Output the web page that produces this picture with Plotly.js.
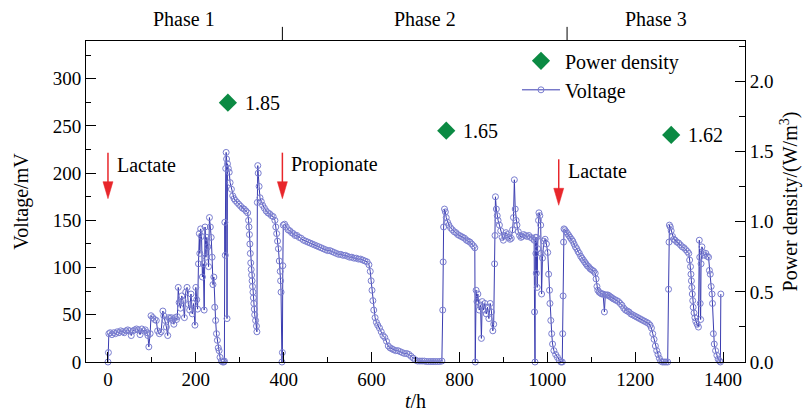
<!DOCTYPE html>
<html><head><meta charset="utf-8">
<script src="https://cdn.plot.ly/plotly-3.0.1.min.js"></script>
<style>html,body{margin:0;padding:0;background:#fff}#chart{width:811px;height:412px}</style>
</head><body><div id="chart"></div>
<script>
// Voltage readings [time (h), voltage (mV)]
const phase1 = [[0,0],[1,10],[2,30],[5,31],[9,29],[13,31],[17,30],[21,32],[25,31],[29,33],[33,32],[37,31],[41,33],[45,34],[49,33],[53,28],[57,33],[61,34],[65,35],[69,34],[73,29],[77,35],[81,33],[85,34],[89,31],[91,28],[93,16],[96,30],[98,49],[102,47],[106,45],[110,44],[113,33],[117,30],[121,32],[125,54],[127,49],[130,44],[133,37],[136,28],[138,47],[141,46],[144,47],[147,44],[150,40],[153,47],[156,45],[158,48],[160,79],[162,63],[165,57],[168,70],[171,65],[174,47],[177,74],[180,79],[183,61],[186,55],[189,72],[192,51],[195,62],[198,39],[200,79],[202,66],[204,56],[206,104],[208,136],[209,115],[211,141],[213,133],[215,90],[217,104],[219,55],[221,143],[223,111],[225,132],[227,122],[229,101],[231,153],[233,143],[235,132],[237,111],[239,82],[241,90],[243,58],[245,44],[247,30],[249,23],[251,15],[253,12],[255,5],[258,1],[261,0],[264,0],[265,1],[266,148],[267,113],[268,205],[269,222],[270,215],[271,46],[272,210],[274,205],[276,201],[278,190],[281,183],[284,176],[287,173],[290,171],[294,169],[298,167],[302,165],[306,163],[310,162],[314,160],[318,158],[320,150],[321,143],[322,135],[323,125],[324,115],[325,105],[326,98],[327,92],[328,86],[329,80],[330,74],[331,68],[332,62],[333,56],[334,50],[336,44],[338,38],[339,32],[340,169],[341,208],[342,200],[344,186],[346,174],[349,170],[352,166],[356,163],[360,160],[364,158],[368,157],[372,155],[376,154],[380,150],[382,143],[384,136],[386,128],[388,120],[390,107],[392,96],[393,86],[394,74],[396,0]];
const phase2 = [[397,10],[398,102],[399,145],[402,146],[406,143],[410,140],[414,139],[418,137],[422,136],[426,134],[430,134],[435,132],[440,131],[445,129],[450,128],[455,127],[460,126],[465,125],[470,124],[475,123],[480,122],[485,121],[490,120],[495,119],[500,118],[505,118],[510,117],[515,116],[520,115],[525,114],[530,114],[535,113],[540,113],[545,112],[550,111],[555,111],[560,110],[565,110],[570,109],[575,109],[580,108],[585,107],[590,106],[594,103],[597,96],[599,86],[601,76],[603,65],[605,55],[608,47],[611,42],[614,39],[618,36],[622,32],[626,28],[630,26],[634,22],[638,17],[642,15],[646,14],[650,13],[655,12],[660,12],[665,11],[670,10],[675,9],[680,9],[685,8],[690,6],[695,4],[700,2],[705,1],[710,1],[715,1],[720,1],[725,0.5],[730,0.5],[735,0.5],[740,0.5],[745,0.5],[750,0.5],[755,0.5],[760,1],[762,55],[763,106],[764,143],[766,162],[768,159],[770,153],[773,148],[776,145],[780,142],[784,140],[788,138],[792,137],[796,135],[800,134],[804,133],[808,132],[812,131],[816,129],[820,128],[824,127],[828,125],[832,123],[835,121],[836,0],[838,76],[840,64],[842,72],[845,55],[848,60],[850,25],[852,64],[855,55],[858,62],[861,51],[864,58],[867,46],[870,62],[873,53],[876,33],[878,40],[880,104],[881,134],[882,175],[884,162],[886,155],[888,150],[891,145],[894,139],[897,132],[900,129],[903,134],[906,137],[909,135],[912,132],[915,130],[918,131],[921,140],[923,153],[925,193],[927,162],[929,150],[931,145],[934,138],[937,134],[940,132],[943,133],[946,135],[950,134],[954,133],[958,134],[962,132],[966,131],[970,129],[971,53],[972,0],[973,132],[974,115],[975,94],[976,132],[977,79],[978,120],[980,150],[981,158],[983,155],[985,145],[986,115],[987,72],[989,110],[992,128],[995,130],[998,125],[1001,116],[1003,93],[1005,76],[1006,62],[1008,44],[1010,30],[1012,19],[1015,12],[1019,8],[1023,5],[1027,2],[1031,0],[1034,0]];
const phase3 = [[1035,30],[1036,70],[1037,127],[1038,141],[1040,140],[1043,138],[1046,136],[1049,134],[1052,132],[1055,130],[1058,128],[1061,125],[1064,122],[1067,120],[1070,117],[1073,115],[1076,112],[1079,110],[1082,108],[1085,106],[1088,104],[1091,102],[1094,101],[1097,99],[1100,98],[1103,97],[1106,96],[1109,94],[1111,88],[1113,80],[1115,76],[1118,74],[1121,73],[1124,72],[1127,72],[1130,53],[1132,71],[1135,71],[1138,71],[1141,70],[1144,69],[1147,68],[1150,67],[1154,66],[1158,65],[1162,64],[1166,62],[1170,60],[1174,57],[1178,55],[1182,54],[1186,53],[1190,51],[1194,50],[1198,49],[1202,48],[1206,47],[1210,46],[1214,45],[1218,44],[1222,43],[1226,42],[1230,41],[1234,39],[1237,36],[1240,30],[1243,24],[1246,17],[1249,12],[1252,8],[1255,4],[1258,1],[1262,0],[1266,0],[1270,0],[1274,0],[1276,77],[1277,127],[1278,145],[1280,143],[1282,139],[1285,133],[1288,130],[1291,129],[1295,127],[1299,126],[1303,124],[1307,122],[1311,121],[1315,119],[1319,117],[1322,115],[1324,108],[1326,101],[1327,93],[1328,86],[1329,79],[1330,72],[1331,65],[1332,58],[1334,52],[1336,47],[1338,43],[1341,40],[1344,37],[1346,129],[1347,111],[1348,62],[1349,45],[1350,104],[1352,122],[1355,116],[1358,113],[1361,115],[1364,112],[1367,111],[1369,97],[1371,93],[1373,80],[1375,72],[1376,62],[1378,30],[1380,19],[1383,12],[1386,7],[1389,3],[1392,1],[1394,0],[1395,72]];

// Peak power density per phase
const powerTimes = [273, 770, 1282];
const powerDensity = [1.85, 1.65, 1.62];

// Phase strip and substrate feeding events
const phaseNames = ['Phase 1', 'Phase 2', 'Phase 3'];
const phaseBounds = [397, 1045];
const feedTimes = [0, 397, 1026];
const feedNames = ['Lactate', 'Propionate', 'Lactate'];

const X_RANGE = [-50, 1450];
const allPts = phase1.concat(phase2, phase3);
const timeH = allPts.map(p => p[0]);
const voltage = allPts.map(p => p[1]);

const FONT = '"Liberation Serif", "Times New Roman", Times, serif';
const RED = '#e8262b';
const TXT = 20;

const voltageTrace = {
  x: timeH, y: voltage, name: 'Voltage', type: 'scatter', mode: 'lines+markers',
  line: {color: '#3a3cb0', width: 1},
  marker: {symbol: 'circle-open', size: 6, color: '#7a7ed0', line: {width: 1}},
  cliponaxis: false, yaxis: 'y'
};
const powerTrace = {
  x: powerTimes, y: powerDensity, name: 'Power density', type: 'scatter', mode: 'markers',
  marker: {symbol: 'diamond', size: 14, color: '#0b8a43'},
  yaxis: 'y2'
};

const tipV = [173, 173, 166];
const shapes = [];
const annotations = [];
feedTimes.forEach((t, i) => {
  shapes.push({type: 'line', xref: 'x', yref: 'y', xsizemode: 'pixel', ysizemode: 'pixel',
    xanchor: t, yanchor: tipV[i], x0: 0, x1: 0, y0: 12, y1: 46, line: {color: RED, width: 1.5}});
  shapes.push({type: 'path', xref: 'x', yref: 'y', xsizemode: 'pixel', ysizemode: 'pixel',
    xanchor: t, yanchor: tipV[i], path: 'M-5,17 L5,17 L0,0 Z', fillcolor: RED, line: {color: RED, width: 0.5}});
  annotations.push({xref: 'x', yref: 'y', x: t, y: tipV[i] + 36, xshift: 7, text: feedNames[i],
    showarrow: false, xanchor: 'left', yanchor: 'middle', font: {family: FONT, size: TXT, color: '#000'}});
});
powerTimes.forEach((t, i) => {
  annotations.push({xref: 'x', yref: 'y2', x: t, y: powerDensity[i], xshift: 15, text: powerDensity[i].toFixed(2),
    showarrow: false, xanchor: 'left', yanchor: 'middle', font: {family: FONT, size: TXT, color: '#000'}});
});
const edges = [X_RANGE[0]].concat(phaseBounds, [X_RANGE[1]]);
phaseBounds.forEach(b => {
  shapes.push({type: 'line', xref: 'x', yref: 'paper', x0: b, x1: b, y0: 1, y1: 1.044, line: {color: '#000', width: 1}});
});
phaseNames.forEach((n, i) => {
  annotations.push({xref: 'x', yref: 'paper', x: (edges[i] + edges[i + 1]) / 2, y: 1.069, text: n,
    showarrow: false, xanchor: 'center', yanchor: 'middle', font: {family: FONT, size: TXT, color: '#000'}});
});

const axisCommon = {
  ticks: 'inside', ticklen: 10, tickwidth: 1, tickcolor: '#000',
  showline: true, linecolor: '#000', linewidth: 1, showgrid: false, zeroline: false,
  tickfont: {family: FONT, size: 19, color: '#000'}, automargin: false
};

const layout = {
  width: 811, height: 412,
  margin: {l: 86, r: 66, t: 41, b: 50, pad: 0},
  paper_bgcolor: '#fff', plot_bgcolor: '#fff',
  font: {family: FONT, size: TXT, color: '#000'},
  showlegend: true,
  legend: {x: 0.654, xanchor: 'left', y: 0.999, yanchor: 'top', bgcolor: 'rgba(0,0,0,0)',
    borderwidth: 0, traceorder: 'reversed', itemwidth: 38, font: {family: FONT, size: TXT, color: '#000'}},
  xaxis: Object.assign({}, axisCommon, {
    range: X_RANGE, tick0: 0, dtick: 200, mirror: true,
    minor: {dtick: 100, ticks: 'inside', ticklen: 5, tickwidth: 1, tickcolor: '#000'},
    title: {text: '<i>t</i>/h', font: {family: FONT, size: TXT}, standoff: 5}
  }),
  yaxis: Object.assign({}, axisCommon, {
    range: [0, 340], tick0: 0, dtick: 50,
    minor: {dtick: 25, ticks: 'inside', ticklen: 5, tickwidth: 1, tickcolor: '#000'},
    title: {text: 'Voltage/mV', font: {family: FONT, size: TXT}, standoff: 18}
  }),
  yaxis2: Object.assign({}, axisCommon, {
    overlaying: 'y', side: 'right', range: [0, 2.29], tick0: 0, dtick: 0.5, tickformat: '.1f',
    minor: {dtick: 0.25, ticks: 'inside', ticklen: 6, tickwidth: 1, tickcolor: '#000'},
    title: {text: 'Power density/(W/m<sup>3</sup>)', font: {family: FONT, size: TXT}, standoff: 10}
  }),
  shapes: shapes,
  annotations: annotations
};

Plotly.newPlot('chart', [voltageTrace, powerTrace], layout, {displayModeBar: false, staticPlot: true});
</script>
</body></html>
